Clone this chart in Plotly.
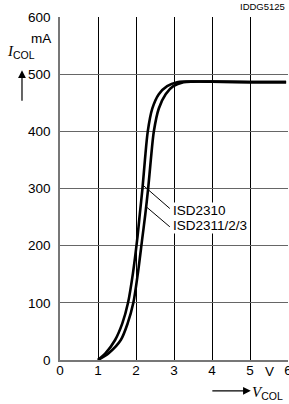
import plotly.graph_objects as go

# Data
i_levels = [0, 12, 35, 64, 100, 152, 210, 255, 300, 350, 400, 440, 465, 479, 486, 487, 487, 486, 486]
v_2310 = [1.0, 1.2, 1.45, 1.64, 1.79, 1.92, 2.03, 2.10, 2.17, 2.235, 2.31, 2.43, 2.60, 2.82, 3.08, 3.3, 4.0, 5.0, 5.95]
v_2311 = [1.0, 1.28, 1.60, 1.78, 1.93, 2.05, 2.16, 2.245, 2.32, 2.39, 2.47, 2.60, 2.78, 2.98, 3.25, 3.5, 4.0, 5.0, 5.95]
i_2310 = i_levels
i_2311 = i_levels

series_names = ["ISD2310", "ISD2311/2/3"]
# leader lines: curve point -> label
leader_x = [[2.18, 2.89], [2.27, 2.89]]
leader_y = [[306, 265], [268, 233]]
label_x = [2.96, 2.96]
label_y = [262, 235]

x_ticks = [0, 1, 2, 3, 4, 5, 6]
y_ticks = [0, 100, 200, 300, 400, 500, 600]

FONT = "Liberation Sans, Arial, sans-serif"

fig = go.Figure()
for vx, iy in [(v_2310, i_2310), (v_2311, i_2311)]:
    fig.add_trace(go.Scatter(x=vx, y=iy, mode="lines",
                             line=dict(color="black", width=2.6, shape="spline", smoothing=0.8),
                             showlegend=False, hoverinfo="skip"))
for lx, ly in zip(leader_x, leader_y):
    fig.add_trace(go.Scatter(x=lx, y=ly, mode="lines",
                             line=dict(color="black", width=1),
                             showlegend=False, hoverinfo="skip"))

for name, tx, ty in zip(series_names, label_x, label_y):
    fig.add_annotation(x=tx, y=ty, xref="x", yref="y", text=name, showarrow=False,
                       xanchor="left", yanchor="middle", bgcolor="white", borderpad=0,
                       font=dict(family=FONT, size=13.5, color="black"))

# unit labels
fig.add_annotation(x=5.5, y=-0.034, xref="x", yref="paper", text="V", showarrow=False,
                   xanchor="center", yanchor="middle", font=dict(family=FONT, size=13.5, color="black"))
fig.add_annotation(x=-0.031, y=563, xref="paper", yref="y", text="mA", showarrow=False,
                   xanchor="right", yanchor="middle", font=dict(family=FONT, size=13.5, color="black"))

# axis titles
fig.add_annotation(x=-0.24, y=539, xref="paper", yref="y",
                   text="<span style='font-family:Liberation Serif'><i>I</i></span><sub>COL</sub>",
                   showarrow=False, xanchor="left", yanchor="middle",
                   font=dict(family=FONT, size=15, color="black"))
fig.add_annotation(x=-0.1667, y=507, xref="paper", yref="y", text="", showarrow=True,
                   ax=0, ay=32, arrowhead=2, arrowsize=1.3, arrowwidth=1.2, arrowcolor="black")
fig.add_annotation(x=0.837, y=-0.09, xref="paper", yref="paper", text="", showarrow=True,
                   ax=-40, ay=0, arrowhead=2, arrowsize=1.3, arrowwidth=1.2, arrowcolor="black")
fig.add_annotation(x=0.833, y=-0.095, xref="paper", yref="paper",
                   text="<span style='font-family:Liberation Serif'><i>V</i></span><sub>COL</sub>",
                   showarrow=False, xanchor="left", yanchor="middle",
                   font=dict(family=FONT, size=15, color="black"))
fig.add_annotation(x=0.996, y=1.032, xref="paper", yref="paper", text="IDDG5125",
                   showarrow=False, xanchor="right", yanchor="middle",
                   font=dict(family=FONT, size=9.5, color="black"))

fig.update_xaxes(range=[0, 6], tickvals=x_ticks, ticktext=[str(t) for t in x_ticks],
                 showgrid=True, gridcolor="black", gridwidth=1, zeroline=False,
                 showline=True, linecolor="#777", linewidth=2, ticks="",
                 ticklabelstandoff=-3, ticklabeloverflow="allow", automargin=False,
                 tickfont=dict(family=FONT, size=13.5, color="black"))
fig.update_yaxes(range=[0, 600], tickvals=y_ticks, ticktext=[str(t) for t in y_ticks],
                 showgrid=True, gridcolor="#666", gridwidth=1, zeroline=False,
                 showline=True, linecolor="#777", linewidth=1.5, ticks="",
                 ticklabelstandoff=5, automargin=False,
                 tickfont=dict(family=FONT, size=13.5, color="black"))

fig.update_layout(width=289, height=404, autosize=False, margin=dict(l=60, r=1, t=17, b=44),
                  plot_bgcolor="white", paper_bgcolor="white")

fig.write_html("out.html", config={"displayModeBar": False},
               post_script="document.body.style.margin='0';document.body.style.padding='0';document.body.style.overflow='hidden';")
